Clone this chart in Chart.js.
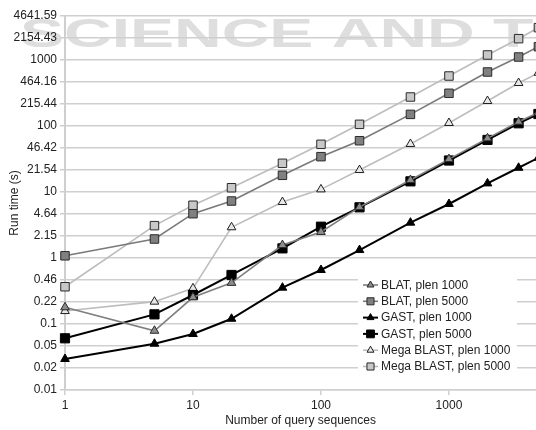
<!DOCTYPE html>
<html>
<head>
<meta charset="utf-8">
<script src="https://cdn.jsdelivr.net/npm/chart.js"></script>
<style>
  html, body { margin: 0; padding: 0; background: #fff; }
  #wrap { width: 536px; height: 430px; }
</style>
</head>
<body>
<div id="wrap"><canvas id="myChart" width="536" height="430"></canvas></div>
<script>
  // query counts (x) and run times in seconds (y)
  var xValues = [1, 5, 10, 20, 50, 100, 200, 500, 1000, 2000, 3500, 5000];
  var blat1000 = [0.179, 0.079, 0.254, 0.42, 1.57, 2.48, 5.9, 15.2, 31.5, 65, 116, 160];
  var blat5000 = [1.08, 1.94, 4.69, 7.3, 17.9, 34.3, 59.8, 150, 313, 658, 1110, 1590];
  var gast1000 = [0.0295, 0.0503, 0.0705, 0.12, 0.355, 0.658, 1.32, 3.43, 6.58, 13.5, 23.3, 33];
  var gast5000 = [0.0607, 0.14, 0.275, 0.553, 1.4, 2.98, 5.86, 14.5, 30, 61.5, 110, 152];
  var mega1000 = [0.157, 0.218, 0.347, 2.92, 7.05, 10.96, 21.5, 53.4, 111, 239, 448, 640];
  var mega5000 = [0.367, 3.09, 6.29, 11.6, 27.2, 52.8, 106, 275, 572, 1191, 2104, 3090];

  var seriesNames = ["BLAT, plen 1000", "BLAT, plen 5000", "GAST, plen 1000",
                     "GAST, plen 5000", "Mega BLAST, plen 1000", "Mega BLAST, plen 5000"];

  var xTickValues = [1, 10, 100, 1000];
  var xTickLabels = ["1", "10", "100", "1000"];
  var yTickValues = [0.01, 0.021544, 0.046416, 0.1, 0.215443, 0.464159, 1, 2.154435, 4.641589,
                     10, 21.544347, 46.415888, 100, 215.443469, 464.158883, 1000, 2154.43469, 4641.588834];
  var yTickLabels = ["0.01", "0.02", "0.05", "0.1", "0.22", "0.46", "1", "2.15", "4.64",
                     "10", "21.54", "46.42", "100", "215.44", "464.16", "1000", "2154.43", "4641.59"];

  var FONT = "'Liberation Sans', Arial, sans-serif";

  function pts(ys) {
    return xValues.map(function (x, i) { return { x: x, y: ys[i] }; });
  }

  function series(label, ys, line, fill, border, style, radius, width) {
    return {
      label: label,
      data: pts(ys),
      borderColor: line,
      borderWidth: width,
      backgroundColor: fill,
      pointBackgroundColor: fill,
      pointBorderColor: border,
      pointBorderWidth: 1,
      pointStyle: style,
      pointRadius: radius,
      pointHoverRadius: radius,
      tension: 0,
      clip: false
    };
  }

  // faint publisher watermark behind the plot
  var watermark = {
    id: 'watermark',
    beforeDraw: function (chart) {
      var ctx = chart.ctx;
      ctx.save();
      ctx.font = "bold 40px " + FONT;
      ctx.fillStyle = "#dedede";
      ctx.textBaseline = "alphabetic";
      ctx.scale(1.65, 1);
      ctx.fillText("SCIENCE AND TECHNOLOGY", 20 / 1.65, 47);
      ctx.restore();
    }
  };

  // legend box drawn inside the plot area
  var boxLegend = {
    id: 'boxLegend',
    afterDraw: function (chart) {
      var ctx = chart.ctx;
      var left = 358, top = 276, w = 159, h = 99;
      ctx.save();
      ctx.fillStyle = "#fff";
      ctx.fillRect(left, top, w, h);
      chart.data.datasets.forEach(function (ds, i) {
        var y = 285 + i * 16.3;
        ctx.strokeStyle = ds.borderColor;
        ctx.lineWidth = ds.borderWidth;
        ctx.beginPath();
        ctx.moveTo(363, y);
        ctx.lineTo(378, y);
        ctx.stroke();
        ctx.fillStyle = ds.pointBackgroundColor;
        ctx.strokeStyle = ds.pointBorderColor;
        ctx.lineWidth = 1;
        Chart.helpers.drawPoint(ctx, { pointStyle: ds.pointStyle, radius: ds.pointRadius - 1, borderWidth: 1 }, 370.5, y);
        ctx.fillStyle = "#222";
        ctx.font = "12px " + FONT;
        ctx.textBaseline = "middle";
        ctx.textAlign = "left";
        ctx.fillText(ds.label, 381, y + 0.5);
      });
      ctx.restore();
    }
  };

  new Chart("myChart", {
    type: "line",
    data: {
      datasets: [
        series(seriesNames[0], blat1000, "#7f7f7f", "#8c8c8c", "#2a2a2a", "triangle", 5, 1.6),
        series(seriesNames[1], blat5000, "#7a7a7a", "#808080", "#2a2a2a", "rect", 6, 1.6),
        series(seriesNames[2], gast1000, "#000000", "#000000", "#000000", "triangle", 5, 2),
        series(seriesNames[3], gast5000, "#000000", "#000000", "#000000", "rect", 6.5, 2),
        series(seriesNames[4], mega1000, "#bdbdbd", "#e8e8e8", "#1e1e1e", "triangle", 5, 1.6),
        series(seriesNames[5], mega5000, "#bdbdbd", "#c8c8c8", "#2a2a2a", "rect", 6, 1.6)
      ]
    },
    options: {
      responsive: false,
      animation: false,
      layout: { autoPadding: false, padding: { top: 16, right: 0, left: 0, bottom: 0 } },
      plugins: {
        legend: { display: false },
        tooltip: { enabled: false }
      },
      scales: {
        x: {
          type: "logarithmic",
          min: 1,
          max: 4786,
          afterBuildTicks: function (scale) {
            scale.ticks = xTickValues.map(function (v) { return { value: v }; });
          },
          afterFit: function (scale) {
            scale.height = 40;
            scale.paddingLeft = 0;
            scale.paddingRight = 0;
          },
          ticks: {
            autoSkip: false,
            maxRotation: 0,
            padding: 3,
            color: "#222",
            font: { family: FONT, size: 12 },
            callback: function (value, index) { return xTickLabels[index]; }
          },
          grid: { drawOnChartArea: false, drawTicks: true, tickLength: 5, color: "#cfcfcf", lineWidth: 1.5 },
          border: { display: true, color: "#cfcfcf", width: 1.5 },
          title: {
            display: true,
            text: "Number of query sequences",
            color: "#222",
            font: { family: FONT, size: 12 },
            padding: { top: 0, bottom: 2 }
          }
        },
        y: {
          type: "logarithmic",
          min: 0.01,
          max: 4641.588834,
          afterBuildTicks: function (scale) {
            scale.ticks = yTickValues.map(function (v) { return { value: v }; });
          },
          afterFit: function (scale) {
            scale.width = 65;
            scale.paddingTop = 0;
            scale.paddingBottom = 0;
          },
          ticks: {
            autoSkip: false,
            padding: 3,
            color: "#222",
            font: { family: FONT, size: 12 },
            callback: function (value, index) { return yTickLabels[index]; }
          },
          grid: { color: "#cfcfcf", lineWidth: 1.5, tickLength: 5 },
          border: { display: true, color: "#cfcfcf", width: 2 },
          title: {
            display: true,
            text: "Run time (s)",
            color: "#222",
            font: { family: FONT, size: 12 },
            padding: { top: 7, bottom: 0 }
          }
        }
      }
    },
    plugins: [watermark, boxLegend]
  });
</script>
</body>
</html>
